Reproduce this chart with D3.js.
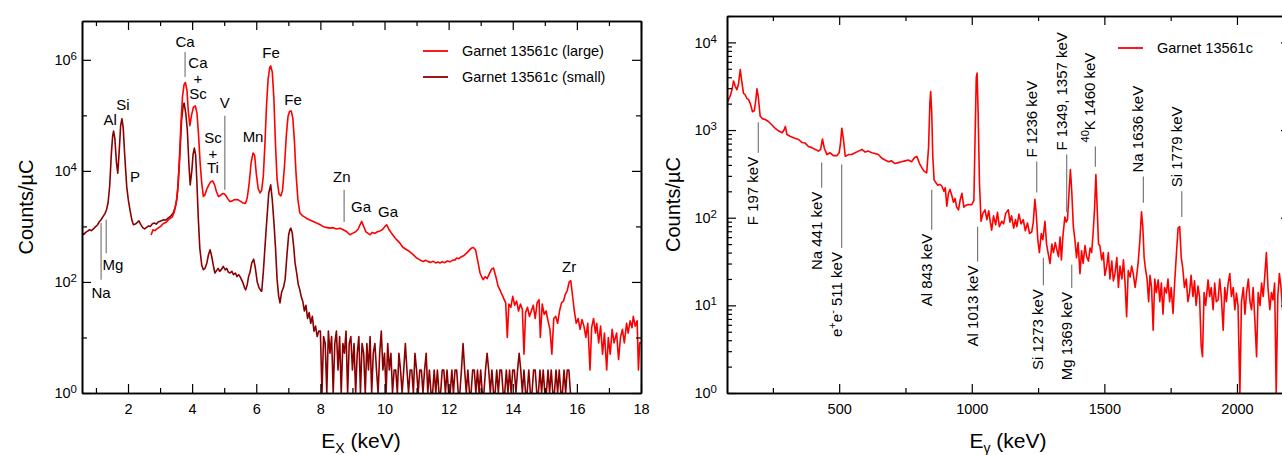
<!DOCTYPE html>
<html>
<head>
<meta charset="utf-8">
<script src="https://cdn.jsdelivr.net/npm/d3@7/dist/d3.min.js"></script>
<style>
  body { margin: 0; background: #fff; }
  svg { font-family: "Liberation Sans", Arial, Helvetica, sans-serif; }
</style>
</head>
<body>
<script>
// ---------- left panel: PIXE (X-ray) spectra, [keV, counts/uC] ----------
var xrayLarge = [
  [2.72, 700], [2.78, 870], [2.84, 840], [2.90, 900], [2.96, 950], [3.02, 1000], [3.08, 1100], [3.14, 1150],
  [3.20, 1200], [3.26, 1320], [3.32, 1400], [3.38, 1480], [3.44, 1800], [3.50, 2600], [3.55, 4500], [3.60, 15000],
  [3.65, 70000], [3.70, 220000], [3.75, 360000], [3.79, 390000], [3.84, 280000], [3.88, 120000], [3.93, 65000],
  [3.98, 100000], [4.04, 140000], [4.10, 148000], [4.15, 110000], [4.20, 45000], [4.25, 13800], [4.30, 6000],
  [4.35, 3470], [4.40, 3700], [4.45, 4570], [4.52, 5600], [4.58, 6400], [4.64, 6600], [4.70, 5600], [4.76, 4200],
  [4.82, 3470], [4.88, 3600], [4.94, 3850], [4.99, 3900], [5.05, 3600], [5.12, 3100], [5.18, 2800], [5.24, 2850],
  [5.30, 3000], [5.37, 3050], [5.44, 3000], [5.50, 2850], [5.56, 2700], [5.62, 2600], [5.67, 2630], [5.72, 3300],
  [5.78, 6000], [5.84, 14000], [5.90, 21000], [5.95, 19000], [6.00, 9000], [6.06, 4800], [6.12, 4000], [6.17, 4500],
  [6.22, 8000], [6.27, 30000], [6.32, 150000], [6.37, 450000], [6.42, 720000], [6.45, 776000], [6.50, 600000],
  [6.55, 200000], [6.60, 30000], [6.65, 7000], [6.71, 3800], [6.77, 3550], [6.82, 4500], [6.88, 12000], [6.94, 45000],
  [6.99, 95000], [7.04, 118000], [7.09, 120000], [7.14, 90000], [7.19, 35000], [7.24, 9000], [7.30, 3000],
  [7.36, 1740], [7.45, 1550], [7.55, 1420], [7.65, 1320], [7.78, 1230], [7.88, 1150], [7.98, 1080], [8.08, 1000],
  [8.18, 960], [8.30, 930], [8.40, 950], [8.50, 900], [8.61, 930], [8.70, 880], [8.80, 820], [8.92, 708], [9.00, 750],
  [9.10, 800], [9.18, 900], [9.24, 1080], [9.29, 1230], [9.35, 1000], [9.42, 800], [9.50, 740], [9.55, 708],
  [9.62, 780], [9.70, 750], [9.78, 800], [9.86, 830], [9.94, 880], [10.00, 980], [10.07, 1070], [10.13, 900],
  [10.20, 780], [10.26, 700], [10.33, 617], [10.40, 560], [10.48, 500], [10.56, 430], [10.63, 400], [10.69, 380],
  [10.76, 360], [10.84, 330], [10.92, 300], [11.00, 270], [11.08, 255], [11.15, 240], [11.21, 234], [11.28, 245],
  [11.36, 232], [11.44, 225], [11.52, 235], [11.60, 220], [11.67, 228], [11.73, 219], [11.80, 232], [11.88, 222],
  [11.96, 238], [12.04, 230], [12.12, 245], [12.20, 250], [12.25, 269], [12.32, 262], [12.40, 285], [12.48, 300],
  [12.56, 330], [12.64, 370], [12.72, 410], [12.77, 417], [12.84, 380], [12.92, 220], [12.98, 145], [13.04, 120],
  [13.08, 110], [13.14, 125], [13.20, 115], [13.27, 140], [13.34, 170], [13.40, 178], [13.48, 120], [13.54, 85],
  [13.60, 72], [13.66, 60], [13.72, 50], [13.78, 42], [13.83, 10], [13.88, 40], [13.94, 35], [14.00, 55], [14.06, 38],
  [14.12, 45], [14.18, 30], [14.24, 40], [14.30, 32], [14.35, 5], [14.40, 28], [14.46, 35], [14.52, 24], [14.58, 30],
  [14.64, 38], [14.70, 22], [14.76, 42], [14.82, 48], [14.86, 10], [14.92, 40], [14.98, 26], [15.04, 30], [15.10, 20],
  [15.16, 14], [15.22, 5], [15.28, 22], [15.34, 24], [15.40, 18], [15.46, 30], [15.52, 42], [15.58, 45], [15.64, 60],
  [15.70, 70], [15.76, 100], [15.81, 105], [15.86, 60], [15.92, 30], [15.98, 18], [16.04, 22], [16.10, 14],
  [16.16, 21], [16.22, 16], [16.28, 10], [16.34, 18], [16.41, 2.6], [16.46, 15], [16.52, 22], [16.58, 12], [16.62, 18],
  [16.68, 8], [16.74, 16], [16.80, 5], [16.86, 12], [16.93, 2.6], [16.98, 10], [17.04, 5], [17.10, 14], [17.16, 8],
  [17.24, 12], [17.30, 4], [17.36, 10], [17.42, 14], [17.48, 8], [17.55, 18], [17.60, 12], [17.66, 20], [17.72, 15],
  [17.76, 24], [17.82, 16], [17.88, 20], [17.92, 2.6], [17.96, 8], [18.00, 8]
];

var xraySmall = [
  [0.57, 760], [0.62, 720], [0.68, 780], [0.74, 820], [0.80, 870], [0.86, 840], [0.92, 900], [0.98, 980], [1.04, 1050],
  [1.10, 1200], [1.16, 1320], [1.22, 1500], [1.28, 1700], [1.33, 2000], [1.38, 2700], [1.43, 5500], [1.48, 20000],
  [1.52, 42000], [1.55, 52000], [1.59, 38000], [1.64, 14000], [1.68, 9100], [1.72, 20000], [1.77, 65000],
  [1.81, 87000], [1.85, 60000], [1.90, 18000], [1.96, 5200], [2.01, 3000], [2.06, 2000], [2.12, 1300], [2.17, 1070],
  [2.23, 1100], [2.29, 1180], [2.34, 1260], [2.40, 1080], [2.46, 950], [2.52, 900], [2.58, 960], [2.64, 1020],
  [2.70, 1000], [2.76, 1120], [2.82, 1150], [2.88, 1100], [2.94, 1200], [3.00, 1240], [3.06, 1280], [3.12, 1320],
  [3.18, 1300], [3.24, 1400], [3.30, 1480], [3.36, 1600], [3.41, 1740], [3.47, 2200], [3.52, 3000], [3.57, 6500],
  [3.62, 21000], [3.67, 80000], [3.72, 150000], [3.75, 166000], [3.80, 110000], [3.85, 55000], [3.90, 13000],
  [3.94, 5600], [3.99, 10000], [4.03, 20000], [4.07, 25700], [4.11, 19000], [4.15, 6000], [4.19, 1500], [4.24, 400],
  [4.30, 200], [4.35, 166], [4.40, 175], [4.46, 220], [4.51, 310], [4.56, 380], [4.61, 290], [4.66, 200], [4.71, 145],
  [4.76, 160], [4.81, 175], [4.86, 155], [4.92, 170], [4.97, 190], [5.03, 165], [5.08, 175], [5.13, 150], [5.18, 145],
  [5.24, 155], [5.29, 135], [5.35, 145], [5.40, 125], [5.45, 135], [5.49, 126], [5.54, 110], [5.59, 95], [5.63, 80],
  [5.67, 72], [5.72, 90], [5.76, 125], [5.80, 145], [5.86, 220], [5.92, 257], [5.97, 180], [6.03, 100], [6.09, 78],
  [6.14, 70], [6.17, 68], [6.22, 150], [6.28, 500], [6.33, 1320], [6.39, 4000], [6.45, 5600], [6.50, 3000],
  [6.55, 1200], [6.60, 420], [6.65, 110], [6.70, 55], [6.74, 42], [6.79, 65], [6.85, 80], [6.90, 110], [6.96, 320],
  [7.01, 700], [7.05, 880], [7.08, 930], [7.12, 780], [7.17, 420], [7.21, 220], [7.26, 145], [7.31, 90], [7.36, 72],
  [7.40, 55], [7.45, 45], [7.50, 30], [7.55, 38], [7.60, 22], [7.65, 28], [7.70, 18], [7.75, 24], [7.80, 13],
  [7.85, 16], [7.90, 10.4], [7.95, 13],
  [8.00, 13], [8.05, 0], [8.10, 10.4], [8.15, 7.8], [8.20, 0], [8.25, 13], [8.30, 5.2], [8.35, 10.4], [8.40, 0],
  [8.45, 7.8], [8.50, 13], [8.55, 2.6], [8.60, 10.4], [8.65, 0], [8.70, 7.8], [8.75, 5.2], [8.80, 13], [8.85, 0],
  [8.90, 7.8], [8.95, 10.4], [9.00, 2.6], [9.05, 7.8], [9.10, 0], [9.15, 5.2], [9.20, 10.4], [9.25, 0], [9.30, 7.8],
  [9.35, 5.2], [9.40, 0], [9.45, 7.8], [9.50, 2.6], [9.55, 10.4], [9.60, 0], [9.65, 5.2], [9.70, 7.8], [9.75, 2.6],
  [9.80, 0], [9.85, 5.2], [9.90, 13], [9.95, 2.6], [10.00, 5.2], [10.05, 0], [10.10, 7.8], [10.15, 2.6], [10.20, 5.2],
  [10.25, 0], [10.30, 2.6], [10.35, 2.6], [10.40, 0], [10.45, 5.2], [10.50, 2.6], [10.55, 0], [10.60, 2.6],
  [10.65, 7.8], [10.70, 2.6], [10.75, 0], [10.80, 2.6], [10.85, 2.6], [10.90, 0], [10.95, 5.2], [11.00, 2.6],
  [11.05, 0], [11.10, 2.6], [11.15, 2.6], [11.20, 0], [11.25, 2.6], [11.30, 5.2], [11.35, 0], [11.40, 2.6], [11.45, 0],
  [11.50, 0], [11.55, 2.6], [11.60, 0], [11.65, 2.6], [11.70, 0], [11.75, 0], [11.80, 2.6], [11.85, 2.6], [11.90, 0],
  [11.95, 2.6], [12.00, 0], [12.05, 0], [12.10, 2.6], [12.15, 0], [12.20, 2.6], [12.25, 2.6], [12.30, 0], [12.35, 0],
  [12.40, 2.6], [12.45, 7.8], [12.50, 2.6], [12.55, 0], [12.60, 2.6], [12.65, 0], [12.70, 0], [12.75, 2.6],
  [12.80, 2.6], [12.85, 0], [12.90, 2.6], [12.95, 0], [13.00, 2.6], [13.05, 0], [13.10, 0], [13.15, 2.6], [13.20, 5.2],
  [13.25, 2.6], [13.30, 0], [13.35, 2.6], [13.40, 0], [13.45, 0], [13.50, 2.6], [13.55, 0], [13.60, 2.6], [13.65, 2.6],
  [13.70, 0], [13.75, 0], [13.80, 2.6], [13.85, 0], [13.90, 2.6], [13.95, 0], [14.00, 2.6], [14.05, 2.6], [14.10, 0],
  [14.15, 2.6], [14.20, 5.2], [14.25, 2.6], [14.30, 0], [14.35, 2.6], [14.40, 0], [14.45, 0], [14.50, 2.6], [14.55, 0],
  [14.60, 0], [14.65, 2.6], [14.70, 2.6], [14.75, 0], [14.80, 0], [14.85, 2.6], [14.90, 0], [14.95, 2.6], [15.00, 0],
  [15.05, 0], [15.10, 2.6], [15.15, 0], [15.20, 2.6], [15.25, 0], [15.30, 0], [15.35, 2.6], [15.40, 0], [15.45, 2.6],
  [15.50, 0], [15.55, 0], [15.60, 2.6], [15.65, 0], [15.70, 2.6], [15.75, 2.6], [15.80, 0]
];

var xrayNames = ["Garnet 13561c (large)", "Garnet 13561c (small)"];
var xrayXMajor = [2, 4, 6, 8, 10, 12, 14, 16, 18],
    xrayXMinor = [1, 3, 5, 7, 9, 11, 13, 15, 17],
    xrayYMajor = [1, 1e2, 1e4, 1e6],
    xrayYMinor = [1e1, 1e3, 1e5];

// element labels: [text, keV, counts]
var xrayPeaks = [
  ["Ca", 3.78, 2.09e6], ["Ca", 4.18, 8.9e5], ["+", 4.18, 4.57e5], ["Sc", 4.18, 2.45e5],
  ["Al", 1.44, 8.3e4], ["Si", 1.84, 1.55e5], ["P", 2.22, 7800],
  ["Sc", 4.65, 3.9e4], ["+", 4.65, 2.04e4], ["Ti", 4.65, 1.12e4],
  ["V", 5.02, 1.7e5], ["Mn", 5.90, 4.1e4], ["Fe", 6.46, 1.35e6], ["Fe", 7.15, 1.9e5],
  ["Zn", 8.67, 7800], ["Ga", 9.27, 2240], ["Ga", 10.11, 1820], ["Zr", 15.76, 186],
  ["Na", 1.16, 63], ["Mg", 1.53, 204]
];
// marker ticks: [keV, counts top, counts bottom]
var xrayMarkers = [
  [3.78, 1.38e6, 4.9e5], [5.02, 9.8e4, 4570], [8.74, 4570, 1200], [1.16, 1150, 110], [1.32, 1320, 330]
];

// ---------- right panel: PIGE (gamma) spectrum, [keV, counts/uC] ----------
var gamma = [
  [77, 2040], [83, 2240], [89, 2450], [95, 2820], [102, 3630], [108, 3160], [114, 2880], [120, 3310], [127, 4900],
  [133, 3550], [139, 2630], [146, 2510], [152, 2290], [158, 2240], [165, 2000], [173, 1620], [180, 1660], [186, 2240],
  [190, 2950], [195, 2400], [202, 1450], [210, 1350], [221, 1320], [232, 1260], [246, 1150], [258, 1050], [271, 980],
  [285, 930], [292, 1000], [297, 1100], [303, 890], [315, 850], [330, 810], [347, 780], [360, 720], [372, 710],
  [384, 650], [397, 630], [410, 600], [422, 575], [430, 600], [437, 790], [444, 620], [454, 525], [466, 550],
  [478, 510], [491, 510], [500, 550], [505, 710], [510, 1050], [516, 790], [523, 500], [535, 525], [548, 525],
  [560, 550], [573, 575], [586, 600], [598, 560], [610, 575], [623, 550], [635, 540], [648, 525], [660, 480],
  [673, 455], [686, 435], [698, 445], [710, 415], [723, 425], [735, 435], [748, 445], [761, 455], [773, 435],
  [785, 490], [793, 500], [803, 415], [812, 370], [820, 340], [830, 325], [837, 630], [842, 2000], [845, 2750],
  [849, 1580], [853, 500], [858, 270], [865, 250], [872, 235], [880, 240], [887, 230], [895, 200], [900, 220],
  [906, 135], [912, 190], [918, 210], [925, 178], [931, 150], [937, 166], [943, 132], [950, 123], [956, 158],
  [963, 190], [970, 132], [977, 138], [985, 141], [1000, 141], [1008, 158], [1013, 1000], [1017, 3980], [1020, 4470],
  [1024, 1580], [1029, 250], [1035, 91], [1042, 112], [1050, 123], [1057, 95], [1064, 120], [1070, 89], [1075, 72],
  [1082, 105], [1090, 83], [1097, 115], [1104, 79], [1113, 91], [1120, 85], [1128, 112], [1138, 123], [1144, 89],
  [1150, 105], [1158, 76], [1165, 95], [1170, 79], [1178, 110], [1186, 85], [1194, 95], [1202, 71], [1210, 87],
  [1218, 66], [1226, 69], [1232, 89], [1238, 162], [1243, 112], [1249, 56], [1255, 40], [1262, 66], [1268, 56],
  [1276, 91], [1282, 50], [1289, 38], [1295, 30], [1302, 50], [1308, 40], [1315, 52], [1320, 44], [1327, 36],
  [1333, 60], [1338, 33], [1344, 63], [1351, 102], [1356, 89], [1361, 95], [1367, 200], [1372, 355], [1377, 200],
  [1383, 79], [1389, 56], [1395, 35], [1401, 52], [1408, 23], [1414, 42], [1420, 30], [1427, 48], [1433, 36],
  [1440, 32], [1446, 45], [1452, 40], [1457, 63], [1463, 126], [1468, 310], [1473, 126], [1478, 50], [1483, 48],
  [1490, 33], [1496, 40], [1502, 22], [1509, 28], [1515, 40], [1521, 20], [1528, 32], [1534, 19], [1540, 23],
  [1547, 35], [1553, 16], [1559, 28], [1566, 20], [1572, 33], [1578, 18], [1584, 7.4], [1590, 25], [1597, 21],
  [1603, 28], [1609, 23], [1616, 16], [1622, 22], [1628, 32], [1634, 56], [1640, 117], [1645, 79], [1650, 35],
  [1655, 26], [1661, 20], [1667, 11], [1672, 22], [1678, 16], [1684, 5.2], [1690, 20], [1696, 14], [1703, 19.5],
  [1709, 11], [1715, 18], [1721, 7.9], [1727, 16], [1734, 13.8], [1740, 20], [1746, 11], [1752, 16], [1759, 8.1],
  [1765, 18], [1772, 40], [1778, 76], [1784, 79], [1790, 35], [1796, 26], [1802, 16], [1809, 20], [1815, 11],
  [1821, 13.8], [1827, 22], [1834, 12.6], [1840, 19], [1846, 10], [1853, 16.6], [1859, 12.6], [1865, 3.5],
  [1870, 2.6], [1876, 14], [1882, 10], [1891, 19.5], [1897, 12.6], [1903, 16], [1910, 8.9], [1916, 18], [1922, 11],
  [1929, 11.5], [1935, 20], [1941, 12.6], [1948, 5.2], [1954, 16], [1960, 11], [1967, 18], [1973, 23], [1979, 12.6],
  [1986, 16], [1992, 8.9], [1998, 13.8], [2004, 10], [2011, 0], [2017, 11], [2024, 16], [2030, 7.9], [2036, 13.8],
  [2043, 20], [2049, 11], [2055, 8.9], [2061, 16], [2068, 6.3], [2074, 2.6], [2080, 14], [2087, 10], [2093, 18],
  [2099, 12.6], [2105, 22], [2111, 40], [2117, 16], [2124, 8.9], [2130, 14], [2136, 11.5], [2142, 18], [2148, 0],
  [2154, 12.6], [2160, 23], [2166, 16], [2172, 8.9], [2178, 18], [2186, 11], [2194, 14], [2200, 10]
];

var gammaName = "Garnet 13561c";
var gammaXMajor = [500, 1000, 1500, 2000],
    gammaXMinor = [250, 750, 1250, 1750],
    gammaYMajor = [1, 10, 100, 1000, 10000];

// gamma line labels: [text, keV, marker top counts, marker bottom counts, text side]
var gammaLines = [
  ["F 197 keV", 195, 1230, 550, "below"],
  ["Na 441 keV", 434, 425, 220, "below"],
  ["e^{+}e^{-} 511 keV", 509.5, 405, 45, "below"],
  ["Al 843 keV", 849, 209, 73, "below"],
  ["Al 1013 keV", 1022, 79, 31.6, "below"],
  ["F 1236 keV", 1245, 437, 194, "above"],
  ["F 1349, 1357 keV", 1358, 525, 115, "above"],
  ["^{40}K 1460 keV", 1466, 650, 380, "above"],
  ["Na 1636 keV", 1647, 295, 148, "above"],
  ["Si 1779 keV", 1792, 200, 102, "above"],
  ["Si 1273 keV", 1270, 35, 17, "below"],
  ["Mg 1369 keV", 1377, 29, 15.8, "below"]
];

var red = "#ff0000", darkRed = "#8b0000", markGrey = "#6e6e6e";

var width = 1282,
    height = 455;

var svg = d3.select("body")
    .append("svg")
    .attr("width", width)
    .attr("height", height);

function supLabel(sel) {
  sel.each(function(d) {
    var t = d3.select(this);
    t.text("10");
    t.append("tspan").attr("dy", -5).attr("font-size", 11.5).text(Math.round(Math.log10(d)));
  });
}

function styleAxis(g) {
  g.attr("font-size", 14.5).attr("font-family", null);
  g.select(".domain").attr("stroke-width", 1.6);
  g.selectAll(".tick line").attr("stroke-width", 1.2);
}

function drawFrame(p, x, y) {
  var yMinor = p.yMinor || y.ticks().filter(function(v) { return Math.abs(Math.log10(v) % 1) > 1e-6; });

  svg.append("g").attr("transform", "translate(0," + p.bottom + ")")
      .call(d3.axisBottom(x).tickValues(p.xMajor).tickSize(-9).tickSizeOuter(0).tickPadding(11).tickFormat(d3.format("d")))
      .call(styleAxis);
  svg.append("g").attr("transform", "translate(0," + p.bottom + ")")
      .call(d3.axisBottom(x).tickValues(p.xMinor).tickSize(-5).tickSizeOuter(0).tickFormat(""))
      .call(styleAxis);
  svg.append("g").attr("transform", "translate(0," + p.top + ")")
      .call(d3.axisTop(x).tickValues(p.xMajor).tickSize(-9).tickSizeOuter(0).tickFormat(""))
      .call(styleAxis);
  svg.append("g").attr("transform", "translate(0," + p.top + ")")
      .call(d3.axisTop(x).tickValues(p.xMinor).tickSize(-5).tickSizeOuter(0).tickFormat(""))
      .call(styleAxis);

  svg.append("g").attr("transform", "translate(" + p.left + ",0)")
      .call(d3.axisLeft(y).tickValues(p.yMajor).tickSize(-9).tickSizeOuter(0).tickPadding(p.yPad).tickFormat(""))
      .call(styleAxis)
      .selectAll(".tick text").call(supLabel);
  svg.append("g").attr("transform", "translate(" + p.left + ",0)")
      .call(d3.axisLeft(y).tickValues(yMinor).tickSize(-5).tickSizeOuter(0).tickFormat(""))
      .call(styleAxis);
  svg.append("g").attr("transform", "translate(" + p.right + ",0)")
      .call(d3.axisRight(y).tickValues(p.yMajor).tickSize(-9).tickSizeOuter(0).tickFormat(""))
      .call(styleAxis);
  svg.append("g").attr("transform", "translate(" + p.right + ",0)")
      .call(d3.axisRight(y).tickValues(yMinor).tickSize(-5).tickSizeOuter(0).tickFormat(""))
      .call(styleAxis);
}

function drawSeries(p, x, y, data, color) {
  var line = d3.line()
      .x(function(d) { return x(d[0]); })
      .y(function(d) { return y(d[1]); });
  svg.append("path")
      .datum(data)
      .attr("clip-path", "url(#" + p.id + ")")
      .attr("fill", "none")
      .attr("stroke", color)
      .attr("stroke-width", 1.6)
      .attr("stroke-linejoin", "round")
      .attr("d", line);
}

function titles(p, xSub) {
  svg.append("text")
      .attr("transform", "translate(" + p.yTitleX + "," + ((p.top + p.bottom) / 2) + ") rotate(-90)")
      .attr("text-anchor", "middle")
      .attr("font-size", 20)
      .text("Counts/\u00b5C");
  var t = svg.append("text")
      .attr("x", p.xTitleX).attr("y", 448)
      .attr("text-anchor", "middle")
      .attr("font-size", 21);
  t.append("tspan").text("E");
  t.append("tspan").attr("font-size", 14).attr("dy", 5).text(xSub);
  t.append("tspan").attr("dy", -5).text(" (keV)");
}

function legend(items, lx, ly) {
  items.forEach(function(it, i) {
    var yy = ly + i * 26;
    svg.append("line").attr("x1", lx).attr("x2", lx + 25).attr("y1", yy).attr("y2", yy)
        .attr("stroke", it[1]).attr("stroke-width", 1.8);
    svg.append("text").attr("x", lx + 39).attr("y", yy).attr("dy", "0.35em")
        .attr("font-size", 14.5).text(it[0]);
  });
}

function clip(p) {
  svg.append("clipPath").attr("id", p.id)
    .append("rect")
      .attr("x", p.left).attr("y", p.top)
      .attr("width", p.right - p.left).attr("height", p.bottom - p.top);
}

// ---------- left panel ----------
var pL = { id: "clipL", left: 82, right: 641, top: 21, bottom: 393, yPad: 5,
           xMajor: xrayXMajor, xMinor: xrayXMinor, yMajor: xrayYMajor, yMinor: xrayYMinor,
           yTitleX: 33, xTitleX: 361 };
var xL = d3.scaleLinear().domain([0.565, 18]).range([pL.left, pL.right]),
    yL = d3.scaleLog().domain([1, 5e6]).range([pL.bottom, pL.top]).clamp(true);

clip(pL);
drawSeries(pL, xL, yL, xraySmall, darkRed);
drawSeries(pL, xL, yL, xrayLarge, red);

svg.selectAll(".xray-mark")
  .data(xrayMarkers)
  .enter().append("line")
    .attr("x1", function(d) { return xL(d[0]); })
    .attr("x2", function(d) { return xL(d[0]); })
    .attr("y1", function(d) { return yL(d[1]); })
    .attr("y2", function(d) { return yL(d[2]); })
    .attr("stroke", markGrey)
    .attr("stroke-width", 1.1);

svg.selectAll(".xray-peak")
  .data(xrayPeaks)
  .enter().append("text")
    .attr("x", function(d) { return xL(d[1]); })
    .attr("y", function(d) { return yL(d[2]); })
    .attr("dy", "0.35em")
    .attr("text-anchor", "middle")
    .attr("font-size", 15)
    .text(function(d) { return d[0]; });

drawFrame(pL, xL, yL);
titles(pL, "X");
legend([[xrayNames[0], red], [xrayNames[1], darkRed]], 423, 51);

// ---------- right panel ----------
var pR = { id: "clipR", left: 727, right: 1290, top: 16, bottom: 393, yPad: 10,
           xMajor: gammaXMajor, xMinor: gammaXMinor, yMajor: gammaYMajor,
           yTitleX: 680, xTitleX: 1008 };
var xR = d3.scaleLinear().domain([77, 2200]).range([pR.left, pR.right]),
    yR = d3.scaleLog().domain([1, 2e4]).range([pR.bottom, pR.top]).clamp(true);

clip(pR);
drawSeries(pR, xR, yR, gamma, red);

gammaLines.forEach(function(d) {
  var gx = xR(d[1]), yTop = yR(d[2]), yBot = yR(d[3]);
  svg.append("line")
      .attr("x1", gx).attr("x2", gx).attr("y1", yTop).attr("y2", yBot)
      .attr("stroke", markGrey).attr("stroke-width", 1.1);
  var below = d[4] === "below";
  var t = svg.append("text")
      .attr("transform", "translate(" + gx + "," + (below ? yBot + 4 : yTop - 4) + ") rotate(-90)")
      .attr("text-anchor", below ? "end" : "start")
      .attr("dy", "0.35em")
      .attr("font-size", 15);
  var shift = 0;
  d[0].split(/(\^\{[^}]*\})/).forEach(function(part) {
    if (!part) return;
    if (part.charAt(0) === "^") {
      t.append("tspan").attr("dy", -6).attr("font-size", 11).text(part.slice(2, -1));
      shift = 6;
    } else {
      t.append("tspan").attr("dy", shift).text(part);
      shift = 0;
    }
  });
});

drawFrame(pR, xR, yR);
titles(pR, "\u03b3");
legend([[gammaName, red]], 1118, 48);
</script>
</body>
</html>
